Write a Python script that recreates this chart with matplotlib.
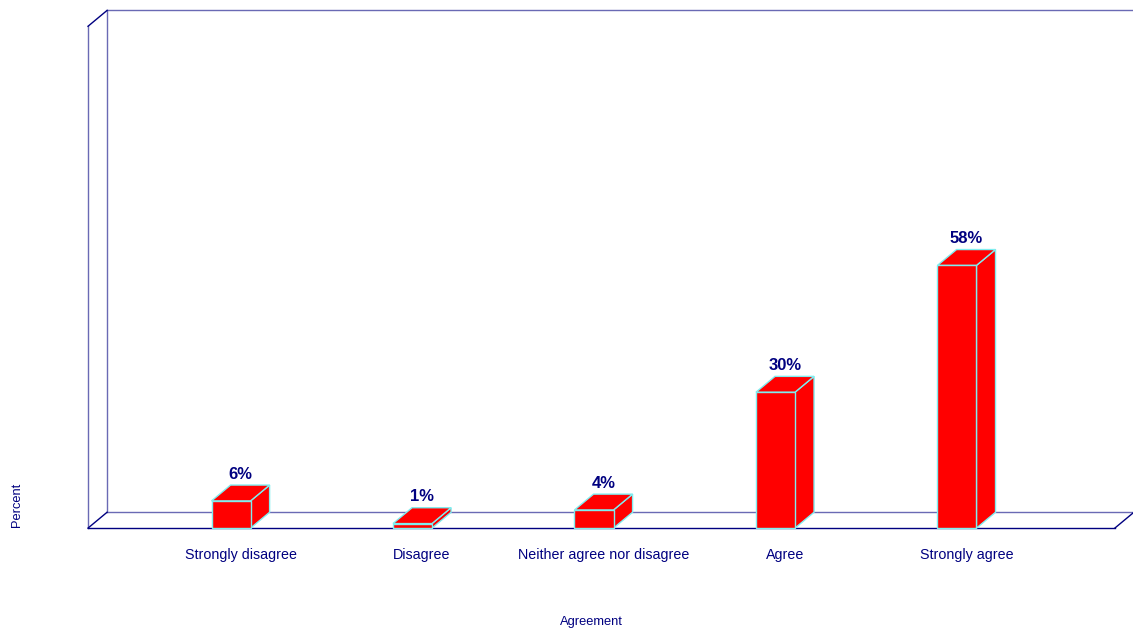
import matplotlib
matplotlib.use("Agg")
import matplotlib.pyplot as plt
from matplotlib.patches import Polygon

plt.rcParams['font.family'] = ['Liberation Sans', 'DejaVu Sans']

categories = ["Strongly disagree", "Disagree", "Neither agree nor disagree", "Agree", "Strongly agree"]
percents = [6, 1, 4, 30, 58]
labels = ["6%", "1%", "4%", "30%", "58%"]

navy = "#000080"
back_col = "#6a6ab4"
edge_col = "#7feef0"

# 3d look: depth offset in data units
dx, dy = 0.105, 3.5
bar_w = 0.215
x0, x1 = -0.788, 4.87   # floor extents
ymax = 110.8

fig = plt.figure(figsize=(11.33, 6.3), dpi=100)
ax = fig.add_axes([0, 0, 1, 1])
ax.set_xlim(-1.273, 4.97)
ax.set_ylim(-22.5, 116.6)
ax.axis("off")

# walls / floor
ax.plot([x0 + dx, x0 + dx], [dy, ymax + dy], color=back_col, lw=1, zorder=1)
ax.plot([x0 + dx, x1 + dx + 1], [ymax + dy, ymax + dy], color=back_col, lw=1, zorder=1)
ax.plot([x0 + dx, x1 + dx], [dy, dy], color=back_col, lw=1, zorder=1)
ax.plot([x0, x0], [0, ymax], color=back_col, lw=1, zorder=1)
ax.plot([x0, x0 + dx], [ymax, ymax + dy], color=navy, lw=1, zorder=1)
ax.plot([x0, x1], [0, 0], color=navy, lw=1, zorder=1)
ax.plot([x0, x0 + dx], [0, dy], color=navy, lw=1, zorder=1)
ax.plot([x1, x1 + dx], [0, dy], color=navy, lw=1, zorder=1)

for i, (v, lab) in enumerate(zip(percents, labels)):
    l, r = i - bar_w / 2, i + bar_w / 2
    front = [(l, 0), (r, 0), (r, v), (l, v)]
    side = [(r, 0), (r + dx, dy), (r + dx, v + dy), (r, v)]
    top = [(l, v), (r, v), (r + dx, v + dy), (l + dx, v + dy)]
    for pts in (side, top, front):
        ax.add_patch(Polygon(pts, closed=True, facecolor="#ff0000",
                             edgecolor=edge_col, lw=1, zorder=3))
    ax.annotate(lab, (i + dx / 2, v + dy), xytext=(0, 2.5), textcoords="offset points",
                ha="center", va="bottom", fontsize=12, fontweight="bold", color=navy, zorder=4)
    ax.text(i + dx / 2, -5.9, categories[i], ha="center", va="center", fontsize=10.3, color=navy)

ax.text(1.985, -20.7, "Agreement", ha="center", va="center", fontsize=9.3, color=navy)
ax.text(-1.18, 5.1, "Percent", ha="center", va="center", rotation=90, fontsize=9.3, color=navy)

fig.savefig("out.png", dpi=100)
